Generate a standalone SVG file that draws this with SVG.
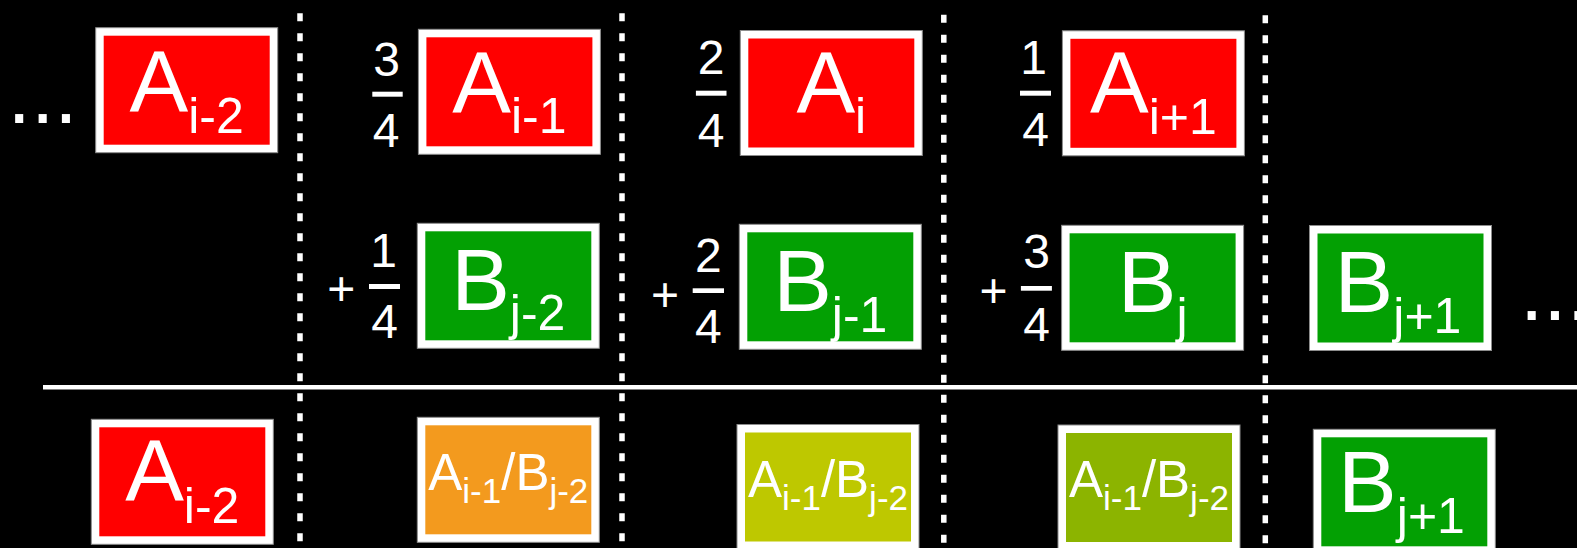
<svg xmlns="http://www.w3.org/2000/svg" width="1577" height="548" viewBox="0 0 1577 548">
<style>
.bo{fill:#fff;stroke:#8c8c8c;stroke-width:1}
.red{fill:#ff0000}
.grn{fill:#03a003}
.org{fill:#f39a1e}
.ylw{fill:#bec800}
.olv{fill:#8cb400}
.t{font-family:"Liberation Sans",Arial,sans-serif;fill:#fff;text-anchor:middle}
.big{font-size:88px}
.sub{font-size:50px}
.sm{font-size:51px}
.ssub{font-size:35px}
.num{font-size:48px}
.dots{font-family:"Liberation Sans",Arial,sans-serif;fill:#fff;font-size:84px}
.bar{fill:#fff}
.dash{stroke:#fff;stroke-width:5.5;stroke-dasharray:8 12;fill:none}
.rule{stroke:#fff;stroke-width:4.5}
</style>
<rect x="0" y="0" width="1577" height="548" fill="#000"/>

<g id="connectors">
  <line class="dash" x1="300" y1="13.3" x2="300" y2="548"/>
  <line class="dash" x1="622" y1="13.3" x2="622" y2="548"/>
  <line class="dash" x1="943.8" y1="14.7" x2="943.8" y2="548"/>
  <line class="dash" x1="1265.3" y1="15.3" x2="1265.3" y2="548"/>
  <line class="rule" x1="43" y1="387.3" x2="1577" y2="387.3"/>
</g>

<g id="dots-left"><text class="dots" x="7.6" y="123">...</text></g>
<g id="dots-right"><text class="dots" x="1520" y="320">...</text></g>

<!-- top row -->
<g id="a-i-2-top">
  <rect class="bo" x="95.7" y="27.7" width="182" height="125"/>
  <rect class="red" x="103.7" y="35.7" width="166" height="109"/>
  <text class="t big" x="186.7" y="111.7">A<tspan class="sub" dy="21">i-2</tspan></text>
</g>
<g id="coef-a-i-1">
  <text class="t num" x="386.5" y="76">3</text>
  <rect class="bar" x="372.3" y="91.7" width="30.4" height="5"/>
  <text class="t num" x="386" y="146.7">4</text>
</g>
<g id="a-i-1-top">
  <rect class="bo" x="418.4" y="29.3" width="182" height="125"/>
  <rect class="red" x="426.4" y="37.3" width="166" height="109"/>
  <text class="t big" x="509.4" y="112.7">A<tspan class="sub" dy="20.6">i-1</tspan></text>
</g>
<g id="coef-a-i">
  <text class="t num" x="711.2" y="74">2</text>
  <rect class="bar" x="695.9" y="90.7" width="30.6" height="5"/>
  <text class="t num" x="711.2" y="146.7">4</text>
</g>
<g id="a-i-top">
  <rect class="bo" x="740.3" y="30.5" width="182" height="125"/>
  <rect class="red" x="748.3" y="38.5" width="166" height="109"/>
  <text class="t big" x="831.3" y="112.7">A<tspan class="sub" dy="20.6">i</tspan></text>
</g>
<g id="coef-a-i+1">
  <text class="t num" x="1033.5" y="74">1</text>
  <rect class="bar" x="1020" y="90.7" width="31" height="5"/>
  <text class="t num" x="1035.5" y="145.7">4</text>
</g>
<g id="a-i+1-top">
  <rect class="bo" x="1062.4" y="30.8" width="182" height="125"/>
  <rect class="red" x="1070.4" y="38.8" width="166" height="109"/>
  <text class="t big" x="1153.4" y="113.3">A<tspan class="sub" dy="21">i+1</tspan></text>
</g>

<!-- second row -->
<g id="coef-b-j-2">
  <text class="t num" x="341.3" y="304.7">+</text>
  <text class="t num" x="383.5" y="266.7">1</text>
  <rect class="bar" x="369" y="284" width="31" height="5"/>
  <text class="t num" x="384.5" y="338.3">4</text>
</g>
<g id="b-j-2">
  <rect class="bo" x="417.3" y="223.3" width="182" height="125"/>
  <rect class="grn" x="425.3" y="231.3" width="166" height="109"/>
  <text class="t big" x="508.3" y="310">B<tspan class="sub" dy="20">j-2</tspan></text>
</g>
<g id="coef-b-j-1">
  <text class="t num" x="665" y="310.7">+</text>
  <text class="t num" x="708.3" y="271.7">2</text>
  <rect class="bar" x="692.7" y="288.3" width="31.3" height="4.7"/>
  <text class="t num" x="708.3" y="342.7">4</text>
</g>
<g id="b-j-1">
  <rect class="bo" x="739.3" y="224.3" width="182" height="125"/>
  <rect class="grn" x="747.3" y="232.3" width="166" height="109"/>
  <text class="t big" x="830.3" y="310.5">B<tspan class="sub" dy="21">j-1</tspan></text>
</g>
<g id="coef-b-j">
  <text class="t num" x="993.5" y="307.4">+</text>
  <text class="t num" x="1036.5" y="268.3">3</text>
  <rect class="bar" x="1020.9" y="286" width="31" height="4.7"/>
  <text class="t num" x="1036.5" y="340.7">4</text>
</g>
<g id="b-j">
  <rect class="bo" x="1061.6" y="225.3" width="182" height="125"/>
  <rect class="grn" x="1069.6" y="233.3" width="166" height="109"/>
  <text class="t big" x="1152.6" y="311.7">B<tspan class="sub" dy="21">j</tspan></text>
</g>
<g id="b-j+1">
  <rect class="bo" x="1309.5" y="225.5" width="182" height="125"/>
  <rect class="grn" x="1317.5" y="233.5" width="166" height="109"/>
  <text class="t big" x="1398" y="311.7">B<tspan class="sub" dy="21">j+1</tspan></text>
</g>

<!-- result row -->
<g id="a-i-2-result">
  <rect class="bo" x="91.3" y="419.3" width="182" height="125"/>
  <rect class="red" x="99.3" y="427.3" width="166" height="109"/>
  <text class="t big" x="182.3" y="500.7">A<tspan class="sub" dy="22">i-2</tspan></text>
</g>
<g id="mix-1">
  <rect class="bo" x="417.3" y="417.3" width="182" height="125"/>
  <rect class="org" x="425.3" y="425.3" width="166" height="109"/>
  <text class="t sm" x="508.3" y="490">A<tspan class="ssub" dy="12.7">i-1</tspan><tspan dy="-12.7">/B</tspan><tspan class="ssub" dy="12.7">j-2</tspan></text>
</g>
<g id="mix-2">
  <rect class="bo" x="737" y="424.5" width="182" height="125"/>
  <rect class="ylw" x="745" y="432.5" width="166" height="109"/>
  <text class="t sm" x="828" y="497.3">A<tspan class="ssub" dy="12.7">i-1</tspan><tspan dy="-12.7">/B</tspan><tspan class="ssub" dy="12.7">j-2</tspan></text>
</g>
<g id="mix-3">
  <rect class="bo" x="1058" y="425" width="182" height="125"/>
  <rect class="olv" x="1066" y="433" width="166" height="109"/>
  <text class="t sm" x="1149" y="497.3">A<tspan class="ssub" dy="13">i-1</tspan><tspan dy="-13">/B</tspan><tspan class="ssub" dy="13">j-2</tspan></text>
</g>
<g id="b-j+1-result">
  <rect class="bo" x="1313.3" y="429.3" width="182" height="125"/>
  <rect class="grn" x="1321.3" y="437.3" width="166" height="109"/>
  <text class="t big" x="1401.5" y="511.7">B<tspan class="sub" dy="21.6">j+1</tspan></text>
</g>
</svg>
